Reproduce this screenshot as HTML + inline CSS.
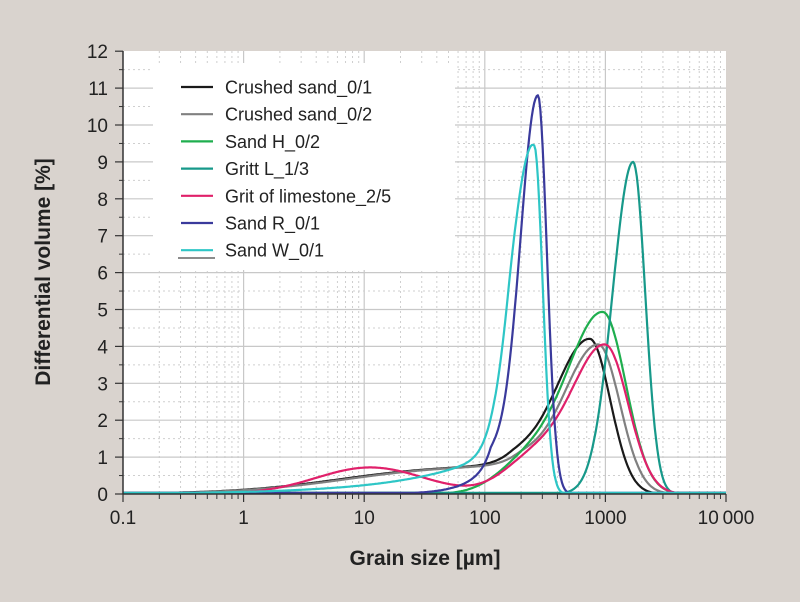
<!DOCTYPE html>
<html><head><meta charset="utf-8"><style>
body{margin:0;background:#d9d3ce;}
svg{display:block;font-family:"Liberation Sans",sans-serif;}
</style></head><body>
<svg id="s" width="800" height="602" xmlns="http://www.w3.org/2000/svg">
<rect width="800" height="602" fill="#d9d3ce"/>
<rect x="123" y="51" width="603" height="443" fill="#ffffff"/>
<g id="grid"></g>
<g id="legend" font-size="18" fill="#222"></g>
<g id="curves" fill="none" stroke-width="2.2" stroke-linejoin="round"></g>
<g id="axes"></g>
<text x="50" y="272" transform="rotate(-90 50 272)" text-anchor="middle" font-size="21" font-weight="bold" fill="#222">Differential volume [%]</text>
<text x="425" y="565" text-anchor="middle" font-size="21" font-weight="bold" fill="#222">Grain size [µm]</text>
</svg>
<script>
const NS="http://www.w3.org/2000/svg";
function el(p,t,a,txt){const e=document.createElementNS(NS,t);for(const k in a)e.setAttribute(k,a[k]);if(txt!==undefined)e.textContent=txt;document.getElementById(p).appendChild(e);return e;}
const X0=123,DX=120.6,Y0=494,DY=36.9;
const px=u=>X0+(u+1)*DX, py=v=>Y0-v*DY;
for(let d=-1;d<4;d++){for(let m=1;m<10;m++){const x=px(d+Math.log10(m));
 if(m==1&&d>-1) el("grid","line",{x1:x,x2:x,y1:51,y2:494,stroke:"#c8c8c8","stroke-width":1.2});
 else if(m>1) el("grid","line",{x1:x,x2:x,y1:51,y2:494,stroke:"#cfcfcf","stroke-width":1,"stroke-dasharray":"2,3"});}}
for(let v=0.5;v<12;v+=0.5){const y=py(v);
 if(v%1==0) el("grid","line",{x1:123,x2:726,y1:y,y2:y,stroke:"#c8c8c8","stroke-width":1.2});
 else el("grid","line",{x1:123,x2:726,y1:y,y2:y,stroke:"#cfcfcf","stroke-width":1,"stroke-dasharray":"2,3"});}
el("axes","line",{x1:123,x2:123,y1:51,y2:494,stroke:"#333","stroke-width":1.5});
el("axes","line",{x1:123,x2:726,y1:494,y2:494,stroke:"#333","stroke-width":1.5});
for(let v=0;v<=12;v++){const y=py(v);el("axes","line",{x1:115,x2:123,y1:y,y2:y,stroke:"#333","stroke-width":1.2});
 el("axes","text",{x:108,y:y+7,"text-anchor":"end","font-size":19,fill:"#222"},String(v));
 if(v<12){el("axes","line",{x1:119,x2:123,y1:py(v+.5),y2:py(v+.5),stroke:"#333","stroke-width":1});}}
const lab=["0.1","1","10","100","1000","10\u2009000"];
for(let d=-1;d<=4;d++){const x=px(d);el("axes","line",{x1:x,x2:x,y1:494,y2:502,stroke:"#333","stroke-width":1.2});
 el("axes","text",{x:x,y:524,"text-anchor":"middle","font-size":19,fill:"#222"},lab[d+1]);
 if(d<4)for(let m=2;m<10;m++){const xx=px(d+Math.log10(m));el("axes","line",{x1:xx,x2:xx,y1:494,y2:499,stroke:"#333","stroke-width":1});}}
const ag=(u,c,h,sl,sr)=>{const s=u<c?sl:sr;return h*Math.exp(-0.5*((u-c)/s)**2);};
const g=(u,c,h,s)=>h*Math.exp(-0.5*((u-c)/s)**2);
const plat=(u,h,c,w,e)=>h/(1+Math.exp(-(u-c)/w))*(u>e?Math.exp(-(((u-e)/0.3)**2)):1);
const etail=(u,h,c,w,cut,sr)=>u<cut?h*Math.exp((u-cut)/w):h*Math.exp(-0.5*((u-cut)/sr)**2);
const S=[
 ["#1a1a1a",u=>ag(u,2.87,4.2,0.3,0.17)+plat(u,0.8,0.8,0.45,2.2)],
 ["#808080",u=>ag(u,2.94,4.05,0.3,0.18)+plat(u,0.8,0.85,0.45,2.25)],
 ["#1fae4e",u=>ag(u,2.98,4.9,0.3,0.19)+ag(u,2.35,0.8,0.25,0.25)*(u>2.98?Math.exp(-0.5*((u-2.98)/0.2)**2):1)],
 ["#17998a",u=>ag(u,3.23,9.0,0.17,0.1)],
 ["#e0206a",u=>ag(u,3.0,4.0,0.28,0.19)+g(u,2.4,0.9,0.25)*(u>3?Math.exp(-0.5*((u-3)/0.2)**2):1)+g(u,1.05,0.72,0.45)],
 ["#3a3a9c",u=>ag(u,2.44,10.8,0.15,0.075)+etail(u,0.9,2.05,0.19,2.05,0.12)],
 ["#2ec6c6",u=>ag(u,2.41,9.3,0.17,0.07)+etail(u,1.33,2.2,0.7,2.2,0.1)],
];
for(const [c,f] of S){let d="";for(let u=-1;u<=4.0001;u+=0.01){const v=Math.max(f(u),0.03);d+=(d?"L":"M")+px(u).toFixed(1)+","+py(v).toFixed(1);}
 el("curves","path",{d:d,stroke:c});}
const L=[["#1a1a1a","Crushed sand_0/1"],["#808080","Crushed sand_0/2"],["#1fae4e","Sand H_0/2"],["#17998a","Gritt L_1/3"],["#e0206a","Grit of limestone_2/5"],["#3a3a9c","Sand R_0/1"],["#2ec6c6","Sand W_0/1"]];
el("legend","rect",{x:153,y:63,width:302,height:207,fill:"#fff"});
L.forEach((l,i)=>{const y=87+i*27.2;el("legend","line",{x1:181,x2:213,y1:y,y2:y,stroke:l[0],"stroke-width":2.2});
 el("legend","text",{x:225,y:y+6.5},l[1]);});
el("legend","line",{x1:178,x2:215,y1:258,y2:258,stroke:"#666","stroke-width":1.5});
</script>
</body></html>
